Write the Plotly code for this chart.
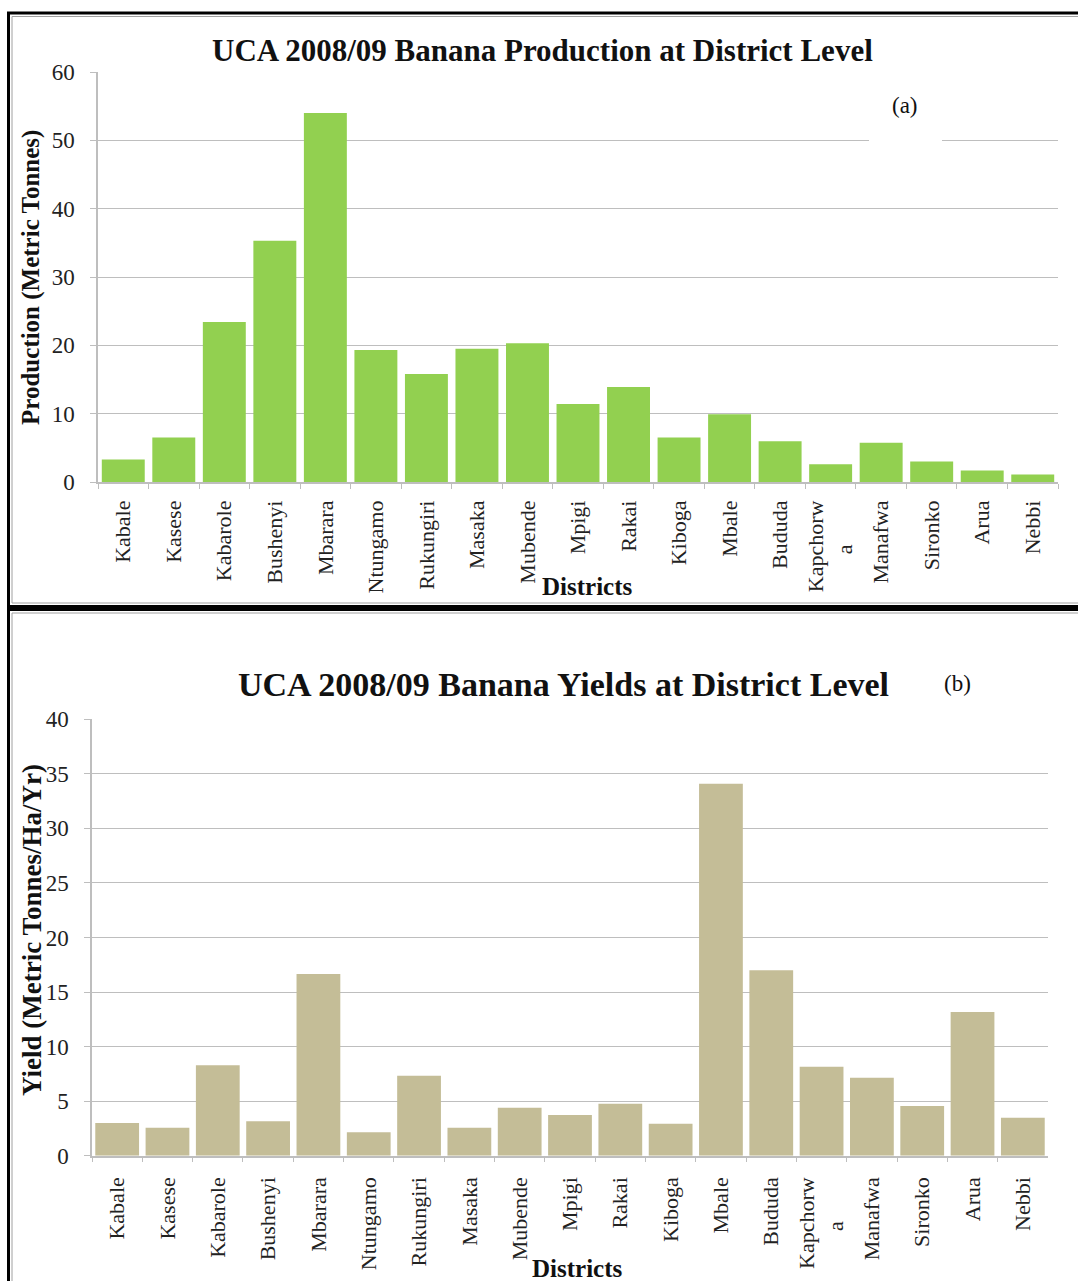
import plotly.graph_objects as go

W, H = 1078, 1281

districts = ["Kabale", "Kasese", "Kabarole", "Bushenyi", "Mbarara", "Ntungamo", "Rukungiri",
             "Masaka", "Mubende", "Mpigi", "Rakai", "Kiboga", "Mbale", "Bududa", "Kapchorwa",
             "Manafwa", "Sironko", "Arua", "Nebbi"]
district_labels = ["Kabale", "Kasese", "Kabarole", "Bushenyi", "Mbarara", "Ntungamo", "Rukungiri",
                   "Masaka", "Mubende", "Mpigi", "Rakai", "Kiboga", "Mbale", "Bududa",
                   "Kapchorw<br>a" + "\u00a0" * 8,
                   "Manafwa", "Sironko", "Arua", "Nebbi"]
production = [3.3, 6.5, 23.4, 35.3, 54.0, 19.3, 15.8, 19.5, 20.3, 11.4, 13.9, 6.5, 9.9, 5.95,
              2.6, 5.75, 3.0, 1.7, 1.1]
yields = [3.0, 2.57, 8.3, 3.15, 16.65, 2.14, 7.33, 2.57, 4.4, 3.73, 4.77, 2.93, 34.1, 17.0,
          8.16, 7.15, 4.56, 13.17, 3.48]
prod_ticks = [0, 10, 20, 30, 40, 50, 60]
yield_ticks = [0, 5, 10, 15, 20, 25, 30, 35, 40]

SERIF = "Liberation Serif, Times New Roman, serif"
GRID = "#BEBEBE"
TXT = "#222222"


def px(x):
    return x / W


def py(y):
    return 1 - y / H


fig = go.Figure()
fig.add_trace(go.Bar(x=districts, y=production, width=0.85,
                     marker=dict(color="#92D050", line=dict(width=0)),
                     xaxis="x", yaxis="y", showlegend=False, hoverinfo="x+y"))
fig.add_trace(go.Bar(x=districts, y=yields, width=0.87,
                     marker=dict(color="#C4BD97", line=dict(width=0)),
                     xaxis="x2", yaxis="y2", showlegend=False, hoverinfo="x+y"))

xcommon = dict(type="category", tickmode="array", tickvals=districts, ticktext=district_labels,
               tickangle=-90, ticks="outside", tickson="boundaries", ticklen=5, tickcolor=GRID,
               showline=True, linecolor=GRID, linewidth=1.5, showgrid=False, zeroline=False,
               tickfont=dict(family=SERIF, size=22, color=TXT), fixedrange=True, automargin=False)
ycommon = dict(ticks="outside", ticklen=6, tickcolor=GRID, showline=True, linecolor=GRID,
               linewidth=1.5, showgrid=True, gridcolor=GRID, gridwidth=1.3, zeroline=False,
               tickfont=dict(family=SERIF, size=23, color=TXT), fixedrange=True,
               ticklabelstandoff=11, automargin=False)

fig.update_layout(
    width=W, height=H,
    margin=dict(l=0, r=0, t=0, b=0, pad=0, autoexpand=False),
    paper_bgcolor="white", plot_bgcolor="white",
    xaxis=dict(domain=[px(98), px(1058)], anchor="y", ticklabelstandoff=8, **xcommon),
    yaxis=dict(domain=[py(482), py(72)], anchor="x", range=[0, 60], tickvals=prod_ticks, **ycommon),
    xaxis2=dict(domain=[px(92), px(1048)], anchor="y2", ticklabelstandoff=11, **xcommon),
    yaxis2=dict(domain=[py(1155.7), py(719.3)], anchor="x2", range=[0, 40], tickvals=yield_ticks, **ycommon),
    showlegend=False,
)

shapes = [
    # panel (a) frame
    dict(type="rect", xref="paper", yref="paper", x0=px(8.5), x1=px(1090), y0=py(606.5), y1=py(13),
         line=dict(color="black", width=3), fillcolor="rgba(0,0,0,0)", layer="above"),
    dict(type="rect", xref="paper", yref="paper", x0=px(12), x1=px(1090), y0=py(603), y1=py(16.5),
         line=dict(color="#A0A0A0", width=1), fillcolor="rgba(0,0,0,0)", layer="above"),
    # panel (b) frame
    dict(type="rect", xref="paper", yref="paper", x0=px(8.5), x1=px(1090), y0=py(1295), y1=py(609.5),
         line=dict(color="black", width=3), fillcolor="rgba(0,0,0,0)", layer="above"),
    dict(type="rect", xref="paper", yref="paper", x0=px(12), x1=px(1090), y0=py(1295), y1=py(613),
         line=dict(color="#A0A0A0", width=1), fillcolor="rgba(0,0,0,0)", layer="above"),
    # white text box behind "(a)"
    dict(type="rect", xref="paper", yref="paper", x0=px(869), x1=px(942), y0=py(142.5), y1=py(90),
         line=dict(width=0), fillcolor="white", layer="above"),
]
fig.update_layout(shapes=shapes)

annotations = [
    dict(text="<b>UCA 2008/09 Banana Production at District Level</b>", x=px(542), y=py(50),
         font=dict(family=SERIF, size=31, color="#111111")),
    dict(text="<b>UCA 2008/09 Banana Yields at District Level</b>", x=px(563), y=py(684),
         font=dict(family=SERIF, size=34, color="#111111")),
    dict(text="<b>Production (Metric Tonnes)</b>", x=px(31), y=py(278), textangle=-90,
         font=dict(family=SERIF, size=25, color="#111111")),
    dict(text="<b>Yield (Metric Tonnes/Ha/Yr)</b>", x=px(32), y=py(930), textangle=-90,
         font=dict(family=SERIF, size=27, color="#111111")),
    dict(text="<b>Districts</b>", x=px(587), y=py(586),
         font=dict(family=SERIF, size=25, color="#111111")),
    dict(text="<b>Districts</b>", x=px(577), y=py(1268),
         font=dict(family=SERIF, size=25, color="#111111")),
    dict(text="(a)", x=px(904.5), y=py(106), font=dict(family=SERIF, size=23, color="#111111")),
    dict(text="(b)", x=px(957.5), y=py(683), font=dict(family=SERIF, size=23, color="#111111")),
]
for a in annotations:
    a.update(xref="paper", yref="paper", xanchor="center", yanchor="middle", showarrow=False)
fig.update_layout(annotations=annotations)

post = ("document.body.style.margin='0px';"
        "document.body.style.overflow='hidden';"
        "var gd=document.getElementById('{plot_id}');"
        "gd.style.position='fixed';gd.style.top='0px';gd.style.left='0px';")

fig.write_html("out.html", config={"displayModeBar": False}, post_script=post)
